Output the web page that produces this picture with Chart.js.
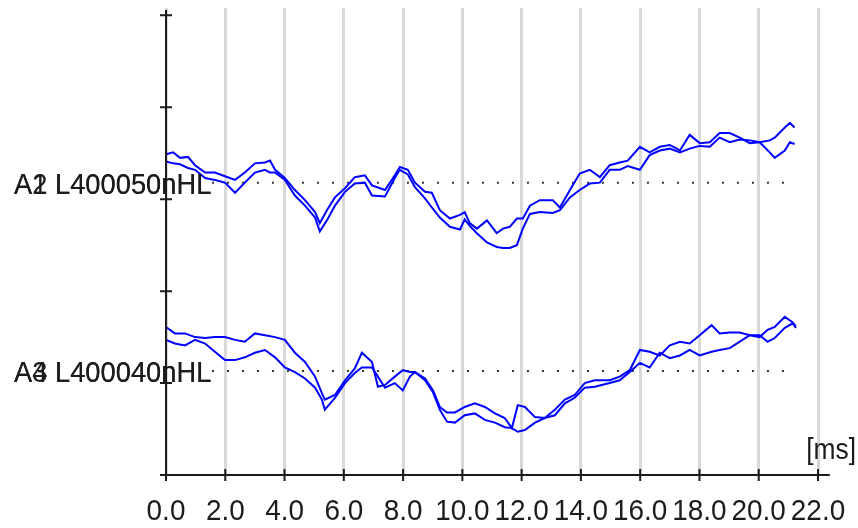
<!DOCTYPE html>
<html>
<head>
<meta charset="utf-8">
<script src="https://cdn.jsdelivr.net/npm/chart.js@4/dist/chart.umd.min.js"></script>
<style>
  html, body { margin: 0; padding: 0; background: #fff; }
</style>
</head>
<body>
<canvas id="abrChart" width="858" height="528"></canvas>
<script>
// ---- waveform data: time in ms, amplitude in display units ----
var upperTimes = [0.00,0.24,0.47,0.74,0.98,1.32,1.65,1.99,2.33,2.66,
                  3.00,3.34,3.51,3.68,4.01,4.35,4.69,5.03,5.19,5.43,
                  5.70,6.04,6.37,6.71,6.95,7.39,7.72,7.89,8.16,8.40,
                  8.74,8.97,9.24,9.58,9.92,10.08,10.25,10.49,10.83,11.16,
                  11.37,11.60,11.84,12.04,12.28,12.61,13.05,13.29,13.63,13.96,
                  14.30,14.64,14.97,15.31,15.58,15.99,16.32,16.66,17.00,17.34,
                  17.67,18.01,18.35,18.68,19.02,19.36,19.70,20.03,20.37,20.54,
                  20.88,21.05,21.21];
var upperA = [3.49,3.51,3.45,3.46,3.37,3.29,3.29,3.25,3.21,3.29,
              3.39,3.40,3.42,3.32,3.23,3.10,2.99,2.86,2.74,2.88,
              3.02,3.12,3.24,3.26,3.15,3.10,3.26,3.35,3.32,3.18,
              3.08,3.07,2.88,2.79,2.83,2.86,2.74,2.68,2.77,2.63,
              2.68,2.70,2.79,2.79,2.93,2.99,2.99,2.91,3.10,3.28,
              3.32,3.24,3.37,3.40,3.42,3.57,3.51,3.57,3.59,3.53,
              3.70,3.61,3.62,3.72,3.72,3.67,3.61,3.62,3.64,3.67,
              3.78,3.83,3.78];
var upperB = [3.41,3.39,3.38,3.34,3.32,3.23,3.21,3.18,3.07,3.18,
              3.29,3.32,3.29,3.29,3.21,3.04,2.93,2.80,2.65,2.77,
              2.93,3.08,3.17,3.18,3.04,3.03,3.23,3.32,3.27,3.13,
              3.01,2.91,2.80,2.70,2.67,2.78,2.71,2.63,2.53,2.48,
              2.47,2.47,2.50,2.68,2.84,2.86,2.85,2.88,3.02,3.10,
              3.17,3.18,3.32,3.32,3.36,3.32,3.48,3.53,3.55,3.51,
              3.55,3.58,3.57,3.67,3.62,3.65,3.64,3.62,3.51,3.45,
              3.53,3.62,3.60];

var lowerTimes = [0.00,0.30,0.64,0.98,1.32,1.65,1.99,2.33,2.66,3.00,
                  3.34,3.68,4.01,4.35,4.69,5.03,5.26,5.36,5.70,6.04,
                  6.37,6.61,6.95,7.15,7.39,7.72,7.99,8.23,8.40,8.74,
                  9.01,9.24,9.48,9.75,10.08,10.42,10.76,11.10,11.43,11.67,
                  11.87,12.11,12.45,12.78,13.12,13.46,13.79,14.13,14.47,14.97,
                  15.31,15.65,15.99,16.32,16.66,17.00,17.34,17.67,18.01,18.41,
                  18.68,19.02,19.36,19.70,20.03,20.30,20.54,20.88,21.15,21.25];
var lowerA = [1.61,1.54,1.54,1.50,1.49,1.50,1.50,1.47,1.45,1.54,
              1.52,1.50,1.47,1.33,1.23,1.07,0.89,0.82,0.87,1.03,
              1.16,1.33,1.23,0.96,0.98,1.07,1.14,1.12,1.12,1.05,
              0.92,0.74,0.68,0.68,0.74,0.78,0.74,0.67,0.62,0.51,
              0.76,0.74,0.63,0.62,0.71,0.82,0.87,1.00,1.03,1.03,
              1.07,1.14,1.36,1.34,1.30,1.41,1.45,1.43,1.52,1.63,
              1.54,1.55,1.55,1.52,1.50,1.58,1.61,1.72,1.66,1.60];
var lowerB = [1.47,1.43,1.41,1.47,1.43,1.34,1.25,1.25,1.28,1.33,
              1.36,1.28,1.17,1.12,1.05,0.95,0.82,0.71,0.84,1.00,
              1.11,1.17,1.17,1.07,0.95,1.00,0.92,1.07,1.12,1.03,
              0.90,0.71,0.58,0.57,0.65,0.67,0.60,0.57,0.52,0.51,
              0.47,0.49,0.57,0.62,0.65,0.78,0.84,0.95,0.96,1.00,
              1.03,1.12,1.22,1.17,1.33,1.27,1.30,1.36,1.30,1.34,
              1.36,1.38,1.45,1.52,1.52,1.45,1.49,1.60,1.65,1.62];

// overlapping channel labels, one pair per baseline
var traceLabels    = [['A1 L400050nHL', 'A2 L400050nHL'],
                      ['A3 L400040nHL', 'A4 L400040nHL']];
var baselineLevels = [3.18, 1.13];
var baselineSpan   = [1.55, 20.9];

var xTickLabels = ['0.0','2.0','4.0','6.0','8.0','10.0','12.0','14.0','16.0','18.0','20.0','22.0'];
var yTickValues = [0, 1, 2, 3, 4, 5];
var xUnit = '[ms]';

(function () {
    'use strict';

    var traceBlue = '#0000ff';
    var axisInk   = '#1c1c1c';
    var gridGrey  = '#d9d9d9';
    var textFont  = '30px "Liberation Sans", Arial, sans-serif';

    function pts(times, vals) {
        return times.map(function (t, i) { return { x: t, y: vals[i] }; });
    }

    function trace(times, vals) {
        return {
            data: pts(times, vals),
            borderColor: traceBlue,
            borderWidth: 2,
            pointRadius: 0,
            tension: 0,
            fill: false
        };
    }

    function baseline(level) {
        return {
            data: [{ x: baselineSpan[0], y: level }, { x: baselineSpan[1], y: level }],
            borderColor: '#333333',
            borderWidth: 2,
            borderDash: [2, 13],
            pointRadius: 0,
            fill: false
        };
    }

    // the original uses a narrow bitmap font, so squeeze the text sideways
    function narrowText(ctx, s, x, y, sx, align) {
        ctx.save();
        ctx.translate(x, y);
        ctx.scale(sx, 1);
        ctx.textAlign = align;
        ctx.fillText(s, 0, 0);
        ctx.restore();
    }

    // axes, crossing tick marks and text labels
    var abrAxes = {
        id: 'abrAxes',
        afterDatasetsDraw: function (chart) {
            var ctx = chart.ctx, xs = chart.scales.x, ys = chart.scales.y;
            var area = chart.chartArea;
            var x0 = xs.getPixelForValue(0), y0 = ys.getPixelForValue(0);

            ctx.save();
            ctx.strokeStyle = axisInk;
            ctx.lineWidth = 2;
            ctx.beginPath();
            ctx.moveTo(x0, area.top + 2);
            ctx.lineTo(x0, y0 + 6);
            ctx.moveTo(x0 - 6, y0);
            ctx.lineTo(xs.getPixelForValue(22.4), y0);
            xs.ticks.forEach(function (t) {
                var px = xs.getPixelForValue(t.value);
                ctx.moveTo(px, y0 - 6);
                ctx.lineTo(px, y0 + 6);
            });
            yTickValues.forEach(function (v) {
                var py = ys.getPixelForValue(v);
                ctx.moveTo(x0 - 6, py);
                ctx.lineTo(x0 + 6, py);
            });
            ctx.stroke();

            ctx.fillStyle = axisInk;
            ctx.font = textFont;
            ctx.textBaseline = 'alphabetic';

            // x tick labels
            xs.ticks.forEach(function (t, i) {
                narrowText(ctx, xTickLabels[i], xs.getPixelForValue(t.value), y0 + 45, 0.93, 'center');
            });

            traceLabels.forEach(function (pair, i) {
                var py = ys.getPixelForValue(baselineLevels[i]) + 11;
                pair.forEach(function (s) { narrowText(ctx, s, 14, py, 0.91, 'left'); });
            });
            narrowText(ctx, xUnit, area.right + 38, y0 - 16, 0.88, 'right');
            ctx.restore();
        }
    };

    new Chart(document.getElementById('abrChart'), {
        type: 'line',
        data: {
            datasets: [
                trace(upperTimes, upperA),
                trace(upperTimes, upperB),
                trace(lowerTimes, lowerA),
                trace(lowerTimes, lowerB),
                baseline(baselineLevels[0]),
                baseline(baselineLevels[1])
            ]
        },
        options: {
            responsive: false,
            animation: false,
            devicePixelRatio: 1,
            layout: { padding: { left: 166, right: 40, top: 8, bottom: 0 } },
            plugins: {
                legend:  { display: false },
                tooltip: { enabled: false }
            },
            scales: {
                x: {
                    type: 'linear',
                    min: 0,
                    max: 22,
                    afterBuildTicks: function (s) {
                        s.ticks = xTickLabels.map(function (l) { return { value: parseFloat(l) }; });
                    },
                    afterFit: function (s) { s.height = 53; },
                    ticks:  { display: false },
                    grid:   { color: gridGrey, lineWidth: 3, drawTicks: false },
                    border: { display: false }
                },
                y: {
                    type: 'linear',
                    min: 0,
                    max: 5.08,
                    display: false
                }
            }
        },
        plugins: [abrAxes]
    });
})();
</script>
</body>
</html>
